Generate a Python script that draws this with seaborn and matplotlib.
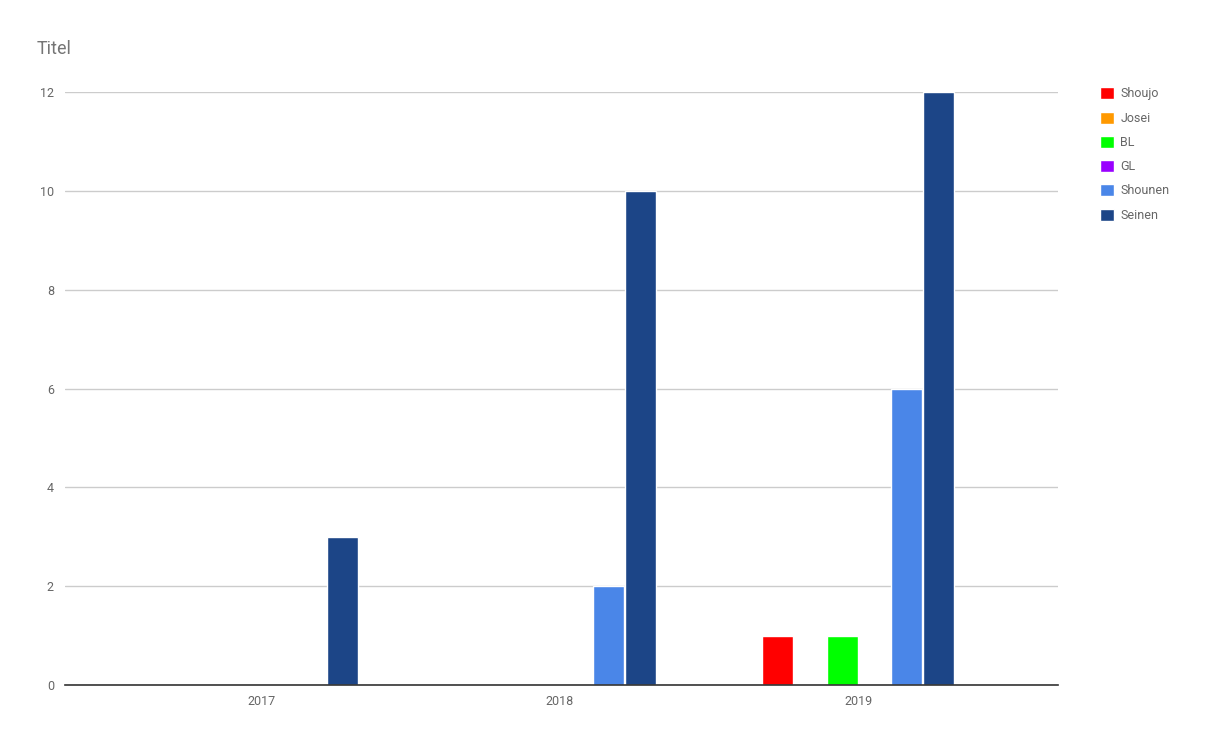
import seaborn as sns
import matplotlib.pyplot as plt
import pandas as pd
from matplotlib.patches import Patch

years = ['2017', '2018', '2019']
genres = ['Shoujo', 'Josei', 'BL', 'GL', 'Shounen', 'Seinen']
shoujo = [0, 0, 1]
josei = [0, 0, 0]
bl = [0, 0, 1]
gl = [0, 0, 0]
shounen = [0, 2, 6]
seinen = [3, 10, 12]
colors = ['#ff0000', '#ff9900', '#00ff00', '#9900ff', '#4a86e8', '#1c4587']

values = [shoujo, josei, bl, gl, shounen, seinen]
rows = []
for g, vals in zip(genres, values):
    for y, v in zip(years, vals):
        rows.append({'year': y, 'genre': g, 'count': v})
df = pd.DataFrame(rows)

sns.set_style("white")
plt.rcParams['font.family'] = ['Roboto', 'DejaVu Sans']

fig = plt.figure(figsize=(12.1, 7.43), dpi=100)
ax = fig.add_axes([65 / 1210, 1 - 685 / 743, (1058 - 65) / 1210, (685 - 92) / 743])

sns.barplot(data=df, x='year', y='count', hue='genre', hue_order=genres,
            palette=colors, width=0.65, gap=0.04, saturation=1, ax=ax,
            legend=False)

ax.set_xlim(-0.66, 2.67)
ax.set_ylim(0, 12)
ax.set_yticks(range(0, 13, 2))
ax.grid(axis='y', color='#cccccc', linewidth=1)
ax.set_axisbelow(True)
for s in ['left', 'right', 'top']:
    ax.spines[s].set_visible(False)
ax.spines['bottom'].set_color('#333333')
ax.spines['bottom'].set_linewidth(1.2)
ax.tick_params(axis='both', length=0, labelsize=9, colors='#666666')
ax.tick_params(axis='y', pad=8)
ax.tick_params(axis='x', pad=7)
ax.set_xlabel('')
ax.set_ylabel('')

fig.text(37 / 1210, 1 - 49 / 743, 'Titel', fontsize=13, color='#757575',
         va='center', ha='left')

handles = [Patch(facecolor=c, label=g) for g, c in zip(genres, colors)]
fig.legend(handles=handles, loc='upper left', bbox_to_anchor=(1089 / 1210, 1 - 76 / 743),
           frameon=False, fontsize=9, labelcolor='#666666', handlelength=1.1,
           handleheight=1.1, handletextpad=0.5, labelspacing=0.88)

fig.savefig('out.png', dpi=100)
